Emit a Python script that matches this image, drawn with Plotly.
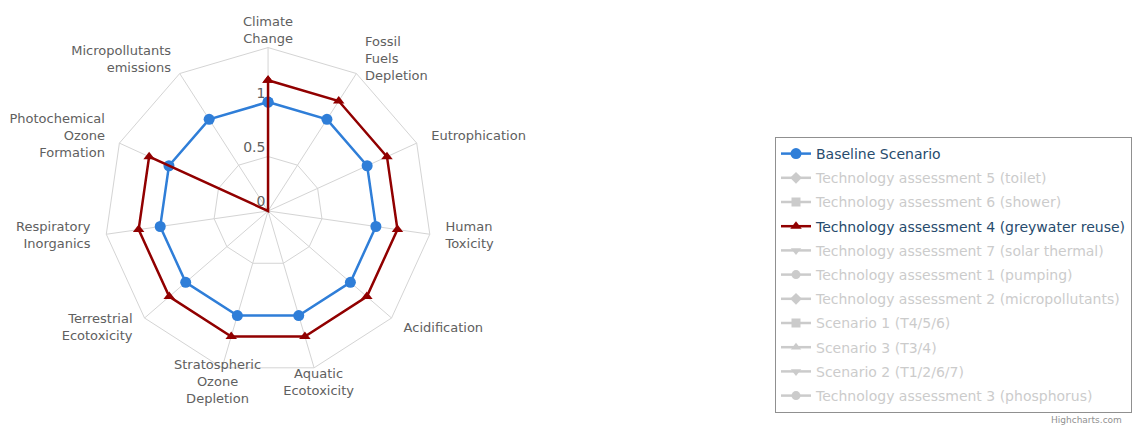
import plotly.graph_objects as go

# Impact categories, clockwise from the top
categories = [
    "Climate Change", "Fossil Fuels Depletion", "Eutrophication", "Human Toxicity",
    "Acidification", "Aquatic Ecotoxicity", "Stratospheric Ozone Depletion",
    "Terrestrial Ecotoxicity", "Respiratory Inorganics",
    "Photochemical Ozone Formation", "Micropollutants emissions",
]
category_labels = [
    "Climate<br>Change", "Fossil<br>Fuels<br>Depletion", "Eutrophication", "Human<br>Toxicity",
    "Acidification", "Aquatic<br>Ecotoxicity", "Stratospheric<br>Ozone<br>Depletion",
    "Terrestrial<br>Ecotoxicity", "Respiratory<br>Inorganics",
    "Photochemical<br>Ozone<br>Formation", "Micropollutants<br>emissions",
]

# Normalised impacts of the two scenarios that are switched on
baseline = [1, 1, 1, 1, 1, 1, 1, 1, 1, 1, 1]
greywater_reuse = [1.2, 1.2, 1.2, 1.2, 1.2, 1.2, 1.2, 1.2, 1.2, 1.2, 0]

radial_ticks = [0, 0.5, 1]
radial_labels = ["0", "0.5", "1"]
radial_max = 1.5

# Legend entries: (name, marker symbol, colour, values or None when hidden)
series = [
    ("Baseline Scenario", "circle", "#2f7ed8", baseline),
    ("Technology assessment 5 (toilet)", "diamond", None, None),
    ("Technology assessment 6 (shower)", "square", None, None),
    ("Technology assessment 4 (greywater reuse)", "triangle-up", "#910000", greywater_reuse),
    ("Technology assessment 7 (solar thermal)", "triangle-down", None, None),
    ("Technology assessment 1 (pumping)", "circle", None, None),
    ("Technology assessment 2 (micropollutants)", "diamond", None, None),
    ("Scenario 1 (T4/5/6)", "square", None, None),
    ("Scenario 3 (T3/4)", "triangle-up", None, None),
    ("Scenario 2 (T1/2/6/7)", "triangle-down", None, None),
    ("Technology assessment 3 (phosphorus)", "circle", None, None),
]

HIDDEN = "#999999"   # legend items of hidden series are drawn at half opacity
TEXT = "#274b6d"
GRID = "#d4d4d4"

W, H = 1132, 427
CX, CY = 269, 211          # pane centre, px from top-left
OUTER_PX = 164             # radius of the outer ring
LABEL_GAP_PX = 16          # category labels sit this far outside the ring
LABEL_PX = OUTER_PX + LABEL_GAP_PX
label_r = radial_max * LABEL_PX / OUTER_PX


def square_domain(radius):
    return dict(
        x=[(CX - radius) / W, (CX + radius) / W],
        y=[(H - CY - radius) / H, (H - CY + radius) / H],
    )


def label_position(index, count):
    angle = index * 360 / count
    if 20 < angle < 160:
        return "middle right"
    if 200 < angle < 340:
        return "middle left"
    return "middle center"


fig = go.Figure()

for i, (name, symbol, color, values) in enumerate(series):
    if values is not None:
        fig.add_trace(go.Scatterpolar(
            r=values + values[:1],
            theta=categories + categories[:1],
            mode="lines+markers",
            name=f'<span style="color:{TEXT}">{name}</span>',
            line=dict(color=color, width=2.5),
            marker=dict(symbol=symbol, size=11 if symbol == "circle" else 10, color=color),
            legendgroup=f"g{i}",
            cliponaxis=False,
        ))
    else:
        fig.add_trace(go.Scatterpolar(
            r=[None] * len(categories),
            theta=categories,
            mode="lines+markers",
            name=f'<span style="color:{HIDDEN}">{name}</span>',
            line=dict(color=HIDDEN, width=2.5),
            marker=dict(symbol=symbol, size=9, color=HIDDEN),
            visible="legendonly",
            legendgroup=f"g{i}",
        ))

# Category labels on a transparent overlay pane sharing the same centre and scale
fig.add_trace(go.Scatterpolar(
    r=[label_r] * len(categories),
    theta=categories,
    mode="text",
    text=category_labels,
    textposition=[label_position(i, len(categories)) for i in range(len(categories))],
    textfont=dict(family="DejaVu Sans", size=13, color="#606060"),
    cliponaxis=False,
    showlegend=False,
    hoverinfo="skip",
    subplot="polar2",
))

angular_common = dict(
    type="category",
    categoryorder="array",
    categoryarray=categories,
    rotation=90,
    direction="clockwise",
)

fig.update_layout(
    width=W, height=H,
    margin=dict(l=0, r=0, t=0, b=0),
    paper_bgcolor="white",
    plot_bgcolor="white",
    font=dict(family="DejaVu Sans", color="#606060", size=13),
    showlegend=True,
    polar=dict(
        domain=square_domain(OUTER_PX),
        gridshape="linear",
        bgcolor="white",
        angularaxis=dict(
            **angular_common,
            showline=True,
            linecolor=GRID,
            linewidth=1,
            gridcolor=GRID,
            gridwidth=1,
            ticks="",
            showticklabels=False,
        ),
        radialaxis=dict(
            range=[0, radial_max],
            tickmode="array",
            tickvals=radial_ticks,
            ticktext=[f"{t}<br>&nbsp;" for t in radial_labels],
            angle=90,
            tickangle=90,
            showline=False,
            ticks="",
            gridcolor=GRID,
            gridwidth=1,
            side="counterclockwise",
            tickfont=dict(size=14, color="#606060"),
        ),
    ),
    polar2=dict(
        domain=square_domain(LABEL_PX),
        bgcolor="rgba(0,0,0,0)",
        angularaxis=dict(
            **angular_common,
            showline=False, showgrid=False, showticklabels=False, ticks="",
        ),
        radialaxis=dict(
            range=[0, label_r],
            showline=False, showgrid=False, showticklabels=False, ticks="",
        ),
    ),
    legend=dict(
        x=778 / W, y=1 - 137 / H,
        xanchor="left", yanchor="top",
        bgcolor="white",
        bordercolor="#909090",
        borderwidth=1,
        font=dict(family="DejaVu Sans", size=14, color=TEXT),
        tracegroupgap=3,
        itemclick=False,
        itemdoubleclick=False,
    ),
    annotations=[dict(
        text="Highcharts.com", x=1128 / W, y=0, xref="paper", yref="paper",
        xanchor="right", yanchor="bottom", showarrow=False,
        font=dict(family="DejaVu Sans", size=9, color="#909090"),
    )],
)

fig.write_html("out.html")
